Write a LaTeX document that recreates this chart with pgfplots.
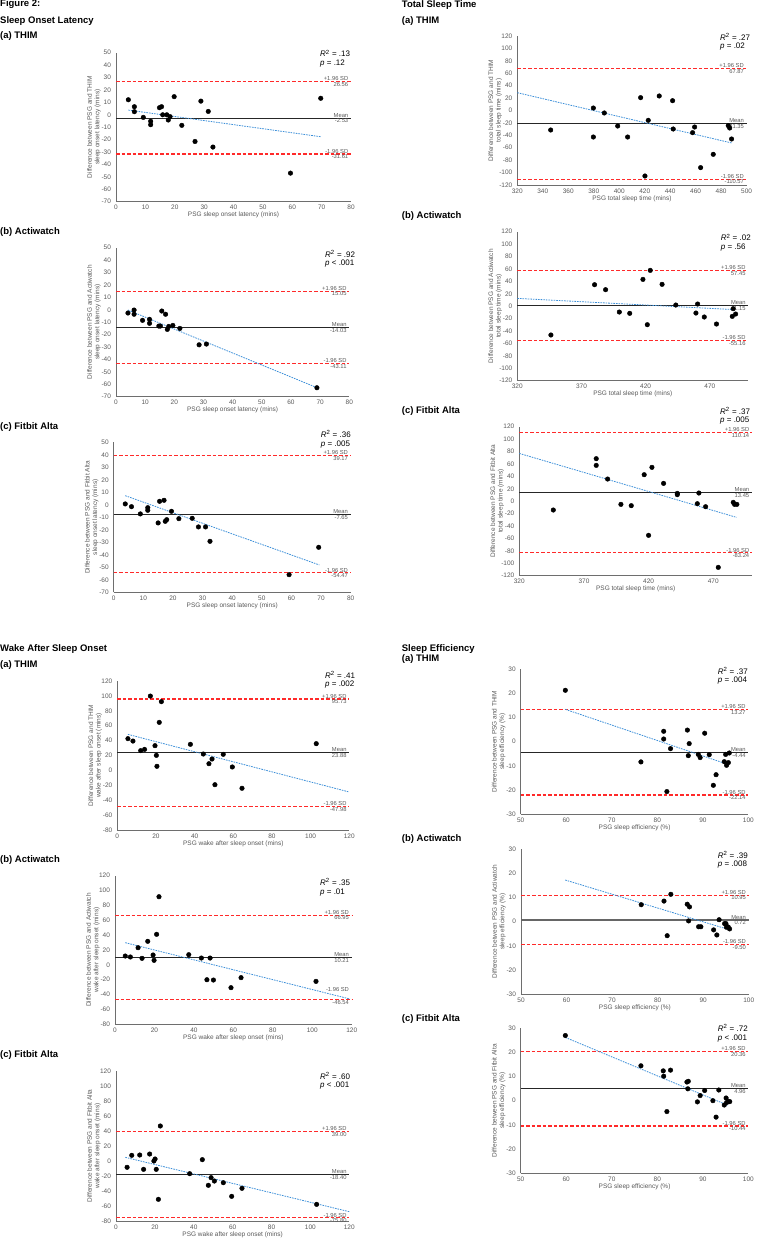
\documentclass[border=0pt]{standalone}
\usepackage{pgfplots}
\pgfplotsset{compat=1.18}
\usepackage{fontspec}
\setmainfont{Liberation Sans}
\definecolor{txtgray}{HTML}{595959}
\definecolor{axgray}{HTML}{6E6E6E}
\definecolor{regblue}{HTML}{3C8FD8}
\definecolor{loared}{HTML}{FF2A2A}
\newcommand{\tfont}{\fontsize{9.5}{11}\selectfont\bfseries}
\newcommand{\rfont}{\fontsize{8}{9}\selectfont}
\newcommand{\lfont}{\fontsize{5.8}{7}\selectfont}
\pgfplotsset{
 ba/.style={
  scale only axis, axis lines=left,
  axis line style={-, draw=axgray, line width=0.7pt},
  major tick length=0pt, tick style={draw=none},
  ticklabel style={font=\fontsize{6.5}{7.5}\selectfont, text=txtgray},
  yticklabel style={xshift=-1.5pt},
  every axis y label/.style={at={(rel axis cs:0,0.5)}, xshift=-22pt, rotate=90, anchor=center, align=center, font=\fontsize{6.5}{7.5}\selectfont, text=txtgray},
  every axis x label/.style={at={(rel axis cs:0.5,0)}, yshift=-13.5pt, anchor=center, font=\fontsize{6.5}{7.5}\selectfont, text=txtgray},
  clip=false, scaled ticks=false,
  /pgf/number format/assume math mode=true,
  /pgf/number format/fixed,
 },
 pts/.style={only marks, mark=*, mark size=2.3pt, black},
 loa/.style={loared, line width=1.2pt, dash pattern=on 3.5pt off 2pt},
 mn/.style={black!85, line width=0.8pt},
 reg/.style={regblue, line width=0.8pt, dash pattern=on 1.6pt off 1pt},
}
\newcommand{\lab}[4]{%
 \node[anchor=south east, font=\lfont, text=txtgray, inner sep=0.6pt, xshift=-2pt] at (axis cs:#1,#2) {#3};
 \node[anchor=north east, font=\lfont, text=txtgray, inner sep=0.6pt, xshift=-2pt] at (axis cs:#1,#2) {#4};}
\newcommand{\Rp}[4]{%
 \node[anchor=base west, font=\rfont, inner sep=0pt] at (#1pt,-#2pt) {\textit{R}\textsuperscript{2} = #3};
 \node[anchor=base west, font=\rfont, inner sep=0pt] at (#1pt,-#2pt-8.5pt) {\textit{p} #4};}
\newcommand{\ttl}[3]{\node[anchor=base west, font=\tfont, inner sep=0pt] at (#1pt,-#2pt) {#3};}
\begin{document}
\begin{tikzpicture}
\useasboundingbox (0,0) rectangle (761pt,-1238pt);
% ---------- titles ----------
\ttl{0}{7}{Figure 2:}
\ttl{0}{23.3}{Sleep Onset Latency}
\ttl{0}{39}{(a) THIM}
\ttl{0}{234.3}{(b) Actiwatch}
\ttl{0}{429.3}{(c) Fitbit Alta}
\ttl{0}{651}{Wake After Sleep Onset}
\ttl{0}{667.3}{(a) THIM}
\ttl{0}{862.3}{(b) Actiwatch}
\ttl{0}{1057.3}{(c) Fitbit Alta}
\ttl{401.7}{7.3}{Total Sleep Time}
\ttl{401.7}{23.3}{(a) THIM}
\ttl{401.7}{218.3}{(b) Actiwatch}
\ttl{401.7}{413.3}{(c) Fitbit Alta}
\ttl{401.7}{651.3}{Sleep Efficiency}
\ttl{401.7}{661.7}{(a) THIM}
\ttl{401.7}{841}{(b) Actiwatch}
\ttl{401.7}{1021.7}{(c) Fitbit Alta}
% ---------- R2 / p ----------
\Rp{320}{57}{.13}{= .12}
\Rp{325}{257.5}{.92}{< .001}
\Rp{320.7}{437.5}{.36}{= .005}
\Rp{325}{678}{.41}{= .002}
\Rp{320}{885.5}{.35}{= .01}
\Rp{320}{1079}{.60}{< .001}
\Rp{720}{40.5}{.27}{= .02}
\Rp{720.7}{241}{.02}{= .56}
\Rp{720}{414}{.37}{= .005}
\Rp{717.7}{674}{.37}{= .004}
\Rp{717.7}{858}{.39}{= .008}
\Rp{717.7}{1031.5}{.72}{< .001}

% ===== P1 SOL THIM =====
\begin{axis}[ba, at={(116pt,-201.7pt)}, anchor=south west, width=235pt, height=149pt,
 xmin=0, xmax=80, ymin=-70, ymax=50, xtick={0,10,...,80}, ytick={-70,-60,...,50},
 xlabel={PSG sleep onset latency (mins)},
 ylabel={Difference between PSG and THIM\\sleep onset latency (mins)}]
\addplot[loa] coordinates {(0,26.56) (80,26.56)};
\addplot[loa] coordinates {(0,-31.61) (80,-31.61)};
\addplot[mn] coordinates {(0,-2.53) (80,-2.53)};
\addplot[reg] coordinates {(4.2,3.8) (69.8,-17.7)};
\addplot[pts] coordinates {(4.2,12.1)(6.25,6.5)(6.25,2.5)(9.3,-2.1)(11.8,-5.2)(11.8,-8)(14.8,5.7)(15.5,6.5)(15.9,0)(17.3,0)(17.8,-4.2)(18.4,-1.5)(19.8,14.6)(22.4,-8.5)(26.9,-21.5)(28.9,11)(31.4,2.7)(33,-26)(59.4,-47)(69.7,13.3)};
\lab{80}{26.56}{+1.96 SD}{26.56}
\lab{80}{-2.53}{Mean}{-2.53}
\lab{80}{-31.61}{-1.96 SD}{-31.61}
\end{axis}

% ===== P2 SOL Actiwatch =====
\begin{axis}[ba, at={(116pt,-396.7pt)}, anchor=south west, width=233.3pt, height=149pt,
 xmin=0, xmax=80, ymin=-70, ymax=50, xtick={0,10,...,80}, ytick={-70,-60,...,50},
 xlabel={PSG sleep onset latency (mins)},
 ylabel={Difference between PSG and Actiwatch\\sleep onset latency (mins)}]
\addplot[loa] coordinates {(0,15.05) (80,15.05)};
\addplot[loa] coordinates {(0,-43.11) (80,-43.11)};
\addplot[mn] coordinates {(0,-14.03) (80,-14.03)};
\addplot[reg] coordinates {(4.1,-0.2) (69,-62.8)};
\addplot[pts] coordinates {(4.1,-2.6)(6.2,-0.2)(6.2,-3.6)(9.1,-8.5)(11.5,-7.7)(11.5,-10.9)(14.7,-13.1)(15.2,-13.1)(15.7,-1)(17.0,-3.6)(17.6,-15.8)(18.1,-13.4)(19.5,-12.6)(21.9,-15)(28.5,-28.2)(31,-27.6)(68.9,-62.8)};
\lab{80}{15.05}{+1.96 SD}{15.05}
\lab{80}{-14.03}{Mean}{-14.03}
\lab{80}{-43.11}{-1.96 SD}{-43.11}
\end{axis}

% ===== P3 SOL Fitbit =====
\begin{axis}[ba, at={(113.7pt,-592.3pt)}, anchor=south west, width=237pt, height=150pt,
 xmin=0, xmax=80, ymin=-70, ymax=50, xtick={0,10,...,80}, ytick={-70,-60,...,50},
 xlabel={PSG sleep onset latency (mins)},
 ylabel={Difference between PSG and Fitbit Alta\\sleep onset latency (mins)}]
\addplot[loa] coordinates {(0,39.17) (80,39.17)};
\addplot[loa] coordinates {(0,-54.47) (80,-54.47)};
\addplot[mn] coordinates {(0,-7.65) (80,-7.65)};
\addplot[reg] coordinates {(3.9,7.3) (69.4,-48.1)};
\addplot[pts] coordinates {(3.9,0.7)(6.0,-1.5)(9.0,-7.3)(11.5,-2.3)(11.5,-4.4)(15.0,-14.5)(15.5,2.8)(17.0,3.6)(17.4,-13.2)(17.9,-11.9)(19.5,-5.2)(22.0,-11.1)(26.5,-10.8)(28.6,-17.7)(31.0,-17.7)(32.5,-29.2)(59.2,-55.9)(69.2,-34)};
\lab{80}{39.17}{+1.96 SD}{39.17}
\lab{80}{-7.65}{Mean}{-7.65}
\lab{80}{-54.47}{-1.96 SD}{-54.47}
\end{axis}

% ===== P4 WASO THIM =====
\begin{axis}[ba, at={(117.3pt,-830pt)}, anchor=south west, width=232pt, height=149pt,
 xmin=0, xmax=120, ymin=-80, ymax=120, xtick={0,20,...,120}, ytick={-80,-60,...,120},
 xlabel={PSG wake after sleep onset (mins)},
 ylabel={Difference between PSG and THIM\\wake after sleep onset (mins)}]
\addplot[loa] coordinates {(0,95.73) (120,95.73)};
\addplot[loa] coordinates {(0,-47.98) (120,-47.98)};
\addplot[mn] coordinates {(0,23.88) (120,23.88)};
\addplot[reg] coordinates {(5.5,48.4) (120,-29)};
\addplot[pts] coordinates {(5.5,42.6)(8.1,39.4)(12.1,26.5)(14.1,28.2)(17.1,99.8)(19.5,33.2)(20.2,20.2)(20.5,5.5)(21.7,64.5)(22.8,92.3)(37.8,35)(44.5,22)(47.4,9)(49,15.3)(50.5,-19.2)(54.8,21.6)(59.5,4.6)(64.5,-24)(102.9,35.9)};
\lab{120}{95.73}{+1.96 SD}{95.73}
\lab{120}{23.88}{Mean}{23.88}
\lab{120}{-47.98}{-1.96 SD}{-47.98}
\end{axis}

% ===== P5 WASO Actiwatch =====
\begin{axis}[ba, at={(115pt,-1024.3pt)}, anchor=south west, width=236.7pt, height=148.6pt,
 xmin=0, xmax=120, ymin=-80, ymax=120, xtick={0,20,...,120}, ytick={-80,-60,...,120},
 xlabel={PSG wake after sleep onset (mins)},
 ylabel={Difference between PSG and Actiwatch\\wake after sleep onset (mins)}]
\addplot[loa] coordinates {(0,66.95) (120,66.95)};
\addplot[loa] coordinates {(0,-46.54) (120,-46.54)};
\addplot[mn] coordinates {(0,10.21) (120,10.21)};
\addplot[reg] coordinates {(5.2,29.9) (119.1,-45.9)};
\addplot[pts] coordinates {(5.2,11.9)(7.8,10.6)(11.7,23.1)(13.7,8.8)(16.6,31.7)(19.3,13.3)(19.8,6.1)(21.1,41.1)(22.3,91.7)(37.4,13.7)(43.8,9.2)(46.6,-20)(48.2,9.2)(49.9,-20.4)(58.8,-30.7)(63.9,-17.2)(101.9,-22.2)};
\lab{120}{66.95}{+1.96 SD}{66.95}
\lab{120}{10.21}{Mean}{10.21}
\node[anchor=east, font=\lfont, text=txtgray, inner sep=0.6pt, xshift=-2pt] at (axis cs:120,-33.4) {-1.96 SD};
\node[anchor=north east, font=\lfont, text=txtgray, inner sep=0.6pt, xshift=-2pt] at (axis cs:120,-46.54) {-46.54};
\end{axis}

% ===== P6 WASO Fitbit =====
\begin{axis}[ba, at={(116pt,-1221pt)}, anchor=south west, width=233.3pt, height=150pt,
 xmin=0, xmax=120, ymin=-80, ymax=120, xtick={0,20,...,120}, ytick={-80,-60,...,120},
 xlabel={PSG wake after sleep onset (mins)},
 ylabel={Difference between PSG and Fitbit Alta\\wake after sleep onset (mins)}]
\addplot[loa] coordinates {(0,39.00) (120,39.00)};
\addplot[loa] coordinates {(0,-75.80) (120,-75.80)};
\addplot[mn] coordinates {(0,-18.40) (120,-18.40)};
\addplot[reg] coordinates {(4.8,4.9) (120,-67.6)};
\addplot[pts] coordinates {(5.7,-8.4)(8.1,7.6)(12.2,8)(14.2,-11.1)(17.3,9.3)(19.5,0)(20.1,2.7)(20.7,-11.1)(21.8,-51.1)(22.8,46.7)(37.9,-16.9)(44.4,1.8)(48.9,-22.2)(50.6,-26.7)(47.5,-32.4)(55.2,-28.9)(59.5,-47.1)(64.8,-36.4)(103.2,-57.8)};
\lab{120}{39.00}{+1.96 SD}{39.00}
\lab{120}{-18.40}{Mean}{-18.40}
\lab{120}{-75.80}{-1.96 SD}{-75.80}
\end{axis}

% ===== P7 TST THIM =====
\begin{axis}[ba, at={(517.3pt,-185pt)}, anchor=south west, width=229.3pt, height=149pt,
 xmin=320, xmax=500, ymin=-120, ymax=120, xtick={320,340,...,500}, ytick={-120,-100,...,120},
 xlabel={PSG total sleep time (mins)},
 ylabel={Difference between PSG and THIM\\total sleep time (mins)}]
\addplot[loa] coordinates {(320,67.87) (500,67.87)};
\addplot[loa] coordinates {(320,-110.57) (500,-110.57)};
\addplot[mn] coordinates {(320,-21.35) (500,-21.35)};
\addplot[reg] coordinates {(320,28.7) (488.2,-52.3)};
\addplot[pts] coordinates {(346.2,-31.4)(379.7,4)(379.7,-42.7)(388.3,-4)(398.8,-25)(406.6,-42.7)(416.8,20.7)(420.2,-105.5)(422.8,-15.8)(431.4,23.4)(441.9,15.8)(442.4,-29.8)(457.6,-35.7)(459.2,-26.6)(463.9,-92)(473.8,-70.6)(485.6,-24.4)(486.7,-28.2)(488.2,-45.9)};
\lab{500}{67.87}{+1.96 SD}{67.87}
\lab{500}{-21.35}{Mean}{-21.35}
\lab{500}{-110.57}{-1.96 SD}{-110.57}
\end{axis}

% ===== P8 TST Actiwatch =====
\begin{axis}[ba, at={(517.3pt,-380.7pt)}, anchor=south west, width=231pt, height=149pt,
 xmin=320, xmax=500, ymin=-120, ymax=120, xtick={320,370,420,470}, ytick={-120,-100,...,120},
 xlabel={PSG total sleep time (mins)},
 ylabel={Difference between PSG and Actiwatch\\total sleep time (mins)}]
\addplot[loa] coordinates {(320,57.45) (500,57.45)};
\addplot[loa] coordinates {(320,-55.16) (500,-55.16)};
\addplot[mn] coordinates {(320,1.15) (500,1.15)};
\addplot[reg] coordinates {(320,12.6) (490,-5.6)};
\addplot[pts] coordinates {(346.2,-46.4)(380.2,34.6)(388.8,26.6)(399.5,-9.4)(407.6,-11.5)(417.9,43.2)(421.3,-29.8)(423.6,57.7)(432.8,35.2)(443.5,1.9)(459.2,-11)(460.5,3.5)(465.7,-17.4)(475.2,-28.7)(487.5,-16.4)(488.2,-4)(490.1,-12.6)};
\lab{500}{57.45}{+1.96 SD}{57.45}
\lab{500}{1.15}{Mean}{1.15}
\lab{500}{-55.16}{-1.96 SD}{-55.16}
\end{axis}

% ===== P9 TST Fitbit =====
\begin{axis}[ba, at={(519.3pt,-575.7pt)}, anchor=south west, width=232.7pt, height=149pt,
 xmin=320, xmax=500, ymin=-120, ymax=120, xtick={320,370,420,470}, ytick={-120,-100,...,120},
 xlabel={PSG total sleep time (mins)},
 ylabel={Difference between PSG and Fitbit Alta\\total sleep time (mins)}]
\addplot[loa] coordinates {(320,110.14) (500,110.14)};
\addplot[loa] coordinates {(320,-83.24) (500,-83.24)};
\addplot[mn] coordinates {(320,13.45) (500,13.45)};
\addplot[reg] coordinates {(320,77) (488,-26)};
\addplot[pts] coordinates {(346.3,-14.2)(379.5,68.5)(379.5,57.7)(388.3,35.7)(398.6,-5.1)(406.6,-7.2)(416.6,42.7)(420,-55)(422.6,54.5)(431.6,28.7)(442.2,12.6)(442.2,10.5)(457.7,-4)(458.9,13.2)(464.1,-8.9)(473.9,-106.6)(485.5,-1.9)(486.5,-5.1)(488.3,-5.1)};
\lab{500}{110.14}{+1.96 SD}{110.14}
\lab{500}{13.45}{Mean}{13.45}
\lab{500}{-83.24}{-1.96 SD}{-83.24}
\end{axis}

% ===== P10 SE THIM =====
\begin{axis}[ba, at={(520.7pt,-814pt)}, anchor=south west, width=227.7pt, height=144.7pt,
 xmin=50, xmax=100, ymin=-30, ymax=30, xtick={50,60,...,100}, ytick={-30,-20,...,30},
 xlabel={PSG sleep efficiency (\%)},
 ylabel={Difference between PSG and THIM\\sleep efficiency (\%)}]
\addplot[loa] coordinates {(50,13.27) (100,13.27)};
\addplot[loa] coordinates {(50,-22.14) (100,-22.14)};
\addplot[mn] coordinates {(50,-4.44) (100,-4.44)};
\addplot[reg] coordinates {(59.8,13.4) (95.6,-9.5)};
\addplot[pts] coordinates {(59.8,21.3)(76.4,-8.4)(81.4,4.3)(81.4,1.1)(82.1,-20.7)(82.9,-2.9)(86.6,4.8)(86.8,-5.8)(87.0,-0.8)(89.0,-5.3)(89.4,-6.6)(90.4,3.5)(91.4,-5.4)(92.3,-18.1)(92.9,-13.7)(94.7,-8.3)(95.0,-5.3)(95.2,-9.8)(95.6,-8.7)(95.8,-4.7)};
\lab{100}{13.27}{+1.96 SD}{13.27}
\lab{100}{-4.44}{Mean}{-4.44}
\lab{100}{-22.14}{-1.96 SD}{-22.14}
\end{axis}

% ===== P11 SE Actiwatch =====
\begin{axis}[ba, at={(521pt,-994.3pt)}, anchor=south west, width=227.7pt, height=145.3pt,
 xmin=50, xmax=100, ymin=-30, ymax=30, xtick={50,60,...,100}, ytick={-30,-20,...,30},
 xlabel={PSG sleep efficiency (\%)},
 ylabel={Difference between PSG and Actiwatch\\sleep efficiency (\%)}]
\addplot[loa] coordinates {(50,10.95) (100,10.95)};
\addplot[loa] coordinates {(50,-9.50) (100,-9.50)};
\addplot[black!60, line width=1.3pt] coordinates {(50,0.72) (100,0.72)};
\addplot[reg] coordinates {(59.7,17.2) (95.5,-3.2)};
\addplot[pts] coordinates {(76.4,7.0)(81.4,8.5)(82.1,-5.8)(82.9,11.3)(86.5,7.2)(87.0,6.1)(86.8,0.3)(89.0,-2.1)(89.5,-2.1)(92.3,-3.4)(93.0,-5.5)(93.5,0.8)(94.7,-0.8)(95.0,-0.8)(95.1,-2.3)(95.5,-2.2)(95.8,-3.0)};
\lab{100}{10.95}{+1.96 SD}{10.95}
\lab{100}{0.72}{Mean}{0.72}
\lab{100}{-9.50}{-1.96 SD}{-9.50}
\end{axis}

% ===== P12 SE Fitbit =====
\begin{axis}[ba, at={(520.7pt,-1173.3pt)}, anchor=south west, width=227.7pt, height=145.3pt,
 xmin=50, xmax=100, ymin=-30, ymax=30, xtick={50,60,...,100}, ytick={-30,-20,...,30},
 xlabel={PSG sleep efficiency (\%)},
 ylabel={Difference between PSG and Fitbit Alta\\sleep efficiency (\%)}]
\addplot[loa] coordinates {(50,20.36) (100,20.36)};
\addplot[loa] coordinates {(50,-10.44) (100,-10.44)};
\addplot[mn] coordinates {(50,4.96) (100,4.96)};
\addplot[reg] coordinates {(59.8,26.1) (95.6,-2.0)};
\addplot[pts] coordinates {(59.8,26.9)(76.4,14.4)(81.3,12.3)(81.4,10.1)(82.1,-4.5)(82.9,12.6)(86.5,7.7)(86.8,8.0)(86.7,4.9)(88.8,-0.5)(89.4,2.1)(90.4,4.2)(92.2,0)(92.9,-6.8)(93.5,4.4)(94.7,-1.8)(95.1,1.1)(95.2,-0.8)(95.6,-0.4)(95.9,-0.4)};
\lab{100}{20.36}{+1.96 SD}{20.36}
\lab{100}{4.96}{Mean}{4.96}
\lab{100}{-10.44}{-1.96 SD}{-10.44}
\end{axis}
\end{tikzpicture}
\end{document}
